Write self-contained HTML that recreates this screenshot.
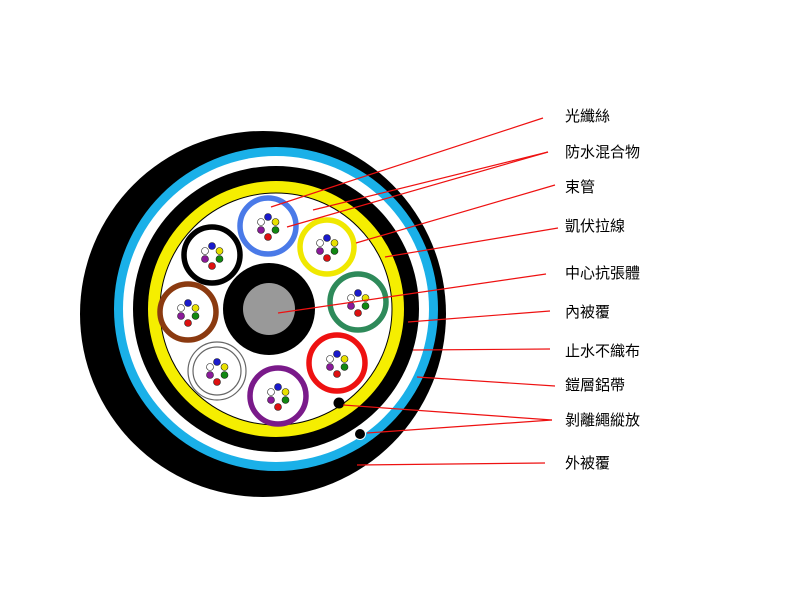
<!DOCTYPE html>
<html><head><meta charset="utf-8"><style>
html,body{margin:0;padding:0;background:#fff;width:800px;height:600px;overflow:hidden}
svg text{font-family:"Liberation Sans","Noto Sans CJK TC","WenQuanYi Zen Hei",sans-serif;font-size:15px;fill:#000}
</style></head><body>
<svg width="800" height="600" viewBox="0 0 800 600" xmlns="http://www.w3.org/2000/svg">
<defs>
<g id="f">
<circle cx="0" cy="-9" r="3.5" fill="#1a1acc" stroke="#222" stroke-width="0.6"/>
<circle cx="-7" cy="-4" r="3.5" fill="#fff" stroke="#222" stroke-width="0.6"/>
<circle cx="7.5" cy="-4" r="3.5" fill="#e8e000" stroke="#222" stroke-width="0.6"/>
<circle cx="-7" cy="4" r="3.5" fill="#8a1a9a" stroke="#222" stroke-width="0.6"/>
<circle cx="7.5" cy="4" r="3.5" fill="#118811" stroke="#222" stroke-width="0.6"/>
<circle cx="0" cy="11" r="3.5" fill="#dd1111" stroke="#222" stroke-width="0.6"/>
</g>
</defs>
<circle cx="263" cy="314" r="183" fill="#000"/>
<circle cx="276" cy="309" r="162" fill="#1ab0e8"/>
<circle cx="276" cy="309" r="153" fill="#fff"/>
<circle cx="276" cy="309" r="143" fill="#000"/>
<circle cx="276" cy="309" r="128" fill="#f5ee00"/>
<circle cx="276" cy="309" r="116" fill="#fff" stroke="#000" stroke-width="1"/>
<circle cx="269" cy="309" r="46" fill="#000"/>
<circle cx="269" cy="309" r="26" fill="#999"/>
<g stroke-width="5.5">
<circle cx="268" cy="226" r="28" fill="#fff" stroke="#4a7ae8"/>
<circle cx="327" cy="247" r="27" fill="#fff" stroke="#f0e800"/>
<circle cx="212" cy="255" r="28" fill="#fff" stroke="#000"/>
<circle cx="188" cy="312" r="28" fill="#fff" stroke="#8b3a10"/>
<circle cx="358" cy="302" r="28" fill="#fff" stroke="#2e8a5a"/>
<circle cx="337" cy="363" r="28" fill="#fff" stroke="#ee1111"/>
<circle cx="217" cy="371" r="29" fill="#fff" stroke="#666" stroke-width="1.2"/>
<circle cx="217" cy="371" r="24" fill="#fff" stroke="#666" stroke-width="1.2"/>
<circle cx="278" cy="396" r="28" fill="#fff" stroke="#7a1a8a"/>
</g>
<use href="#f" x="268" y="226"/>
<use href="#f" x="327" y="247"/>
<use href="#f" x="212" y="255"/>
<use href="#f" x="188" y="312"/>
<use href="#f" x="358" y="302"/>
<use href="#f" x="337" y="363"/>
<use href="#f" x="217" y="371"/>
<use href="#f" x="278" y="396"/>
<circle cx="339" cy="403" r="5.5" fill="#000"/>
<circle cx="360" cy="434" r="5.5" fill="#000" stroke="#fff" stroke-width="1"/>
<g stroke="#ee1111" stroke-width="1.2" fill="none">
<line x1="271" y1="207" x2="543" y2="118"/>
<line x1="313" y1="210" x2="548" y2="152"/>
<line x1="287" y1="227" x2="548" y2="152"/>
<line x1="356" y1="243" x2="555" y2="185"/>
<line x1="385" y1="257" x2="558" y2="228"/>
<line x1="278" y1="313" x2="546" y2="274"/>
<line x1="408" y1="322" x2="550" y2="311"/>
<line x1="413" y1="350" x2="550" y2="349"/>
<line x1="417" y1="377" x2="555" y2="386"/>
<line x1="343" y1="405" x2="552" y2="420"/>
<line x1="367" y1="433" x2="552" y2="420"/>
<line x1="357" y1="465" x2="545" y2="463"/>
</g>
<text x="565" y="121">光纖絲</text>
<text x="565" y="157">防水混合物</text>
<text x="565" y="192">束管</text>
<text x="565" y="231">凱伏拉線</text>
<text x="565" y="278">中心抗張體</text>
<text x="565" y="317">內被覆</text>
<text x="565" y="356">止水不織布</text>
<text x="565" y="390">鎧層鋁帶</text>
<text x="565" y="425">剝離繩縱放</text>
<text x="565" y="468">外被覆</text>
</svg>
</body></html>
